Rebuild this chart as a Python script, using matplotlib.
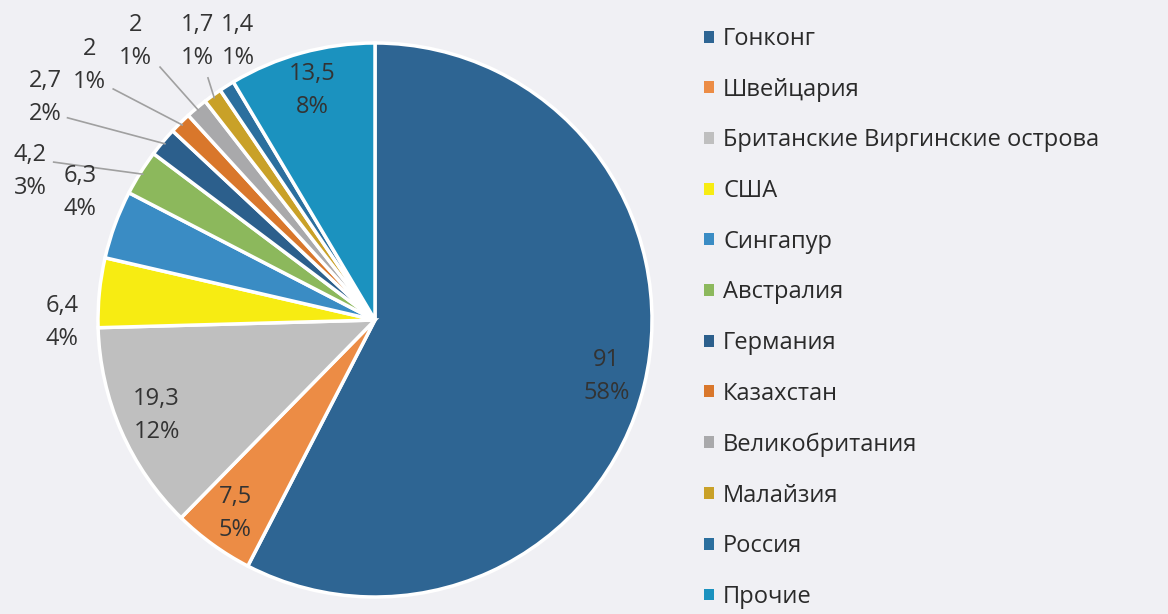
import matplotlib.pyplot as plt
import numpy as np

plt.rcParams['font.family'] = ['Open Sans', 'DejaVu Sans']

countries = ['Гонконг', 'Швейцария', 'Британские Виргинские острова', 'США',
             'Сингапур', 'Австралия', 'Германия', 'Казахстан', 'Великобритания',
             'Малайзия', 'Россия', 'Прочие']
values = [91, 7.5, 19.3, 6.4, 6.3, 4.2, 2.7, 2, 2, 1.7, 1.4, 13.5]
percents = [58, 5, 12, 4, 4, 3, 2, 1, 1, 1, 1, 8]
colors = ['#2e6593', '#ec8c45', '#bfbfbf', '#f7ec12', '#3a8cc4', '#8cb85c',
          '#2c5f8c', '#d9772b', '#a9a9ab', '#c9a128', '#2b6f9e', '#1b92bf']

# где подписи вынесены наружу (позиция текста, начало выноски или None)
outside = {
    3: ((-1.13, -0.01), None),
    4: ((-1.065, 0.46), None),
    5: ((-1.245, 0.535), (-1.16, 0.57)),
    6: ((-1.19, 0.805), (-1.11, 0.73)),
    7: ((-1.03, 0.917), (-0.945, 0.834)),
    8: ((-0.866, 1.004), (-0.776, 0.913)),
    9: ((-0.64, 1.004), (-0.603, 0.874)),
    10: ((-0.495, 1.004), None),
}

bg = '#f0f0f4'
fig = plt.figure(figsize=(11.68, 6.14), dpi=100, facecolor=bg)
ax = fig.add_axes([98 / 1168, 17 / 614, 554 / 1168, 554 / 614])
ax.set_facecolor(bg)

wedges, _ = ax.pie(values, colors=colors, startangle=90, counterclock=False,
                   radius=1, wedgeprops=dict(edgecolor='white', linewidth=2.5))
ax.set_xlim(-1, 1)
ax.set_ylim(-1, 1)
ax.axis('off')

def fmt(v):
    return ('%g' % v).replace('.', ',')

for i, w in enumerate(wedges):
    mid = np.deg2rad((w.theta1 + w.theta2) / 2)
    txt = fmt(values[i]) + '\n' + str(percents[i]) + '%'
    if i in outside:
        pos, start = outside[i]
        ax.text(pos[0], pos[1], txt, ha='center', va='center', fontsize=17,
                color='#333333', linespacing=1.5)
        if start is not None:
            ax.plot([start[0], 0.99 * np.cos(mid)], [start[1], 0.99 * np.sin(mid)],
                    color='#a0a0a0', lw=1.2, clip_on=False)
    else:
        r = 0.86
        ax.text(r * np.cos(mid), r * np.sin(mid), txt, ha='center', va='center',
                fontsize=17, color='#333333', linespacing=1.5)

leg = fig.legend(wedges, countries, loc='upper left', bbox_to_anchor=(690 / 1168, 0.979),
                 frameon=False, fontsize=17, handlelength=0.4, handleheight=0.4,
                 handletextpad=0.4, labelspacing=1.13, borderaxespad=0.2)
for h in leg.legend_handles:
    h.set_edgecolor('none')
for t in leg.get_texts():
    t.set_color('#2a2a2a')

fig.savefig('out.png', dpi=100, facecolor=bg)
